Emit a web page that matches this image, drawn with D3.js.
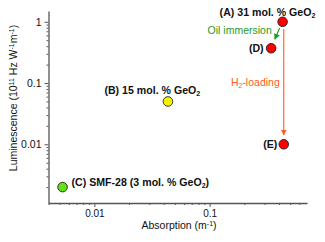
<!DOCTYPE html>
<html>
<head>
<meta charset="utf-8">
<script src="https://cdn.jsdelivr.net/npm/d3@7"></script>
<style>
  body { margin: 0; background: #fff; }
  text { font-family: "Liberation Sans", Arial, sans-serif; }
</style>
</head>
<body>
<div id="chart"></div>
<script>
// samples: A 31 mol% GeO2, B 15 mol%, C SMF-28, D after oil immersion, E after H2 loading
const samples = ["A", "B", "C", "D", "E"];
const absorption = [0.43, 0.0435, 0.0053, 0.342, 0.44];
const luminescence = [1, 0.05, 0.002, 0.37, 0.01];
const pointColors = ["#ff0000", "#f4f400", "#66e010", "#ff0000", "#ff0000"];
const pointLabels = ["(A) 31 mol. % GeO_2", "(B) 15 mol. % GeO_2", "(C) SMF-28 (3 mol. % GeO_2)", "(D)", "(E)"];

// arrows (data coordinates)
const arrowNames = ["Oil immersion", "H_2-loading"];
const arrowX0 = [0.405, 0.44];
const arrowY0 = [0.79, 0.76];
const arrowX1 = [0.368, 0.44];
const arrowY1 = [0.52, 0.0142];
const arrowColors = ["#1f9a1f", "#ff5a22"];

const xTicks = [0.01, 0.1];
const yTicks = [0.01, 0.1, 1];
const xDomain = [0.004, 0.7];
const yDomain = [0.0011, 1.5];

const W = 325, H = 242;
const plot = { left: 48.5, right: 307, top: 11, bottom: 203 };

const svg = d3.select("#chart").append("svg")
  .attr("width", W).attr("height", H);

const x = d3.scaleLog().domain(xDomain).range([plot.left, plot.right]);
const y = d3.scaleLog().domain(yDomain).range([plot.bottom, plot.top]);

// minor ticks 2..9 of every decade inside the domain
function minorTicks(dom) {
  let out = [];
  for (let e = -4; e <= 1; e++) {
    for (let m = 2; m <= 9; m++) {
      let v = m * Math.pow(10, e);
      if (v >= dom[0] && v <= dom[1]) out.push(v);
    }
  }
  return out;
}

const axisColor = "#555";

// x axis
svg.append("g")
  .attr("transform", "translate(0," + plot.bottom + ")")
  .call(d3.axisBottom(x).tickValues(minorTicks(xDomain)).tickFormat("").tickSize(2).tickSizeOuter(0))
  .call(g => g.select(".domain").remove())
  .call(g => g.selectAll("line").attr("stroke", axisColor));

const xAxis = svg.append("g")
  .attr("transform", "translate(0," + plot.bottom + ")")
  .call(d3.axisBottom(x).tickValues(xTicks).tickFormat(d3.format("")).tickSize(4).tickPadding(3).tickSizeOuter(0));
xAxis.select(".domain").attr("stroke", axisColor).attr("stroke-width", 1.3);
xAxis.selectAll("line").attr("stroke", axisColor);
xAxis.selectAll("text").attr("font-size", "10px").attr("fill", "#111")
  .style("font-family", "'Liberation Sans', Arial, sans-serif");

// y axis
svg.append("g")
  .attr("transform", "translate(" + plot.left + ",0)")
  .call(d3.axisLeft(y).tickValues(minorTicks(yDomain)).tickFormat("").tickSize(2).tickSizeOuter(0))
  .call(g => g.select(".domain").remove())
  .call(g => g.selectAll("line").attr("stroke", axisColor));

const yAxis = svg.append("g")
  .attr("transform", "translate(" + plot.left + ",0)")
  .call(d3.axisLeft(y).tickValues(yTicks).tickFormat(d3.format("")).tickSize(4).tickPadding(3).tickSizeOuter(0));
yAxis.select(".domain").attr("stroke", axisColor).attr("stroke-width", 1.3);
yAxis.selectAll("line").attr("stroke", axisColor);
yAxis.selectAll("text").attr("font-size", "10.5px").attr("fill", "#111")
  .style("font-family", "'Liberation Sans', Arial, sans-serif");

// helper: text with _x subscripts and ^x superscripts
function richText(sel, str, small) {
  const parts = str.split(/([_^]\{[^}]*\}|[_^].)/).filter(p => p !== "");
  parts.forEach(p => {
    if (p[0] === "_" || p[0] === "^") {
      const t = p.slice(1).replace(/[{}]/g, "");
      sel.append("tspan")
        .attr("font-size", small)
        .attr("baseline-shift", p[0] === "_" ? "-25%" : "45%")
        .text(t);
    } else {
      sel.append("tspan").text(p);
    }
  });
}

// axis titles
const xt = svg.append("text")
  .attr("x", 179).attr("y", 229)
  .attr("text-anchor", "middle")
  .attr("font-size", "10.5px").attr("fill", "#111");
richText(xt, "Absorption (m^{-1})", "7px");

const yt = svg.append("text")
  .attr("transform", "translate(16.5,98) rotate(-90)")
  .attr("text-anchor", "middle")
  .attr("font-size", "10.5px").attr("fill", "#111");
richText(yt, "Luminescence (10^{11} Hz W^{-1}m^{-1})", "7px");

// arrows
const defs = svg.append("defs");
arrowColors.forEach((c, i) => {
  defs.append("marker")
    .attr("id", "arr" + i)
    .attr("viewBox", "0 0 10 10")
    .attr("refX", 9).attr("refY", 5)
    .attr("markerWidth", 6).attr("markerHeight", 6)
    .attr("markerUnits", "userSpaceOnUse")
    .attr("orient", "auto")
    .append("path").attr("d", "M0,0 L10,5 L0,10 Z").attr("fill", c);
});

svg.selectAll(".arrow")
  .data(arrowNames)
  .join("line")
  .attr("class", "arrow")
  .attr("x1", (d, i) => x(arrowX0[i]))
  .attr("y1", (d, i) => y(arrowY0[i]))
  .attr("x2", (d, i) => x(arrowX1[i]))
  .attr("y2", (d, i) => y(arrowY1[i]))
  .attr("stroke", (d, i) => arrowColors[i])
  .attr("stroke-width", 1.1)
  .attr("marker-end", (d, i) => "url(#arr" + i + ")");

// arrow captions: offsets from the arrow start, in px
const arrowTextOffset = [[-72, 6, "start"], [-4, 10, "end"]];
const arrowTextY = [null, 86];
arrowNames.forEach((name, i) => {
  const t = svg.append("text")
    .attr("x", x(arrowX0[i]) + arrowTextOffset[i][0])
    .attr("y", arrowTextY[i] !== null ? arrowTextY[i] : y(arrowY0[i]) + arrowTextOffset[i][1])
    .attr("text-anchor", arrowTextOffset[i][2])
    .attr("font-size", "10.5px")
    .attr("fill", arrowColors[i]);
  richText(t, name, "7px");
});

// points
svg.selectAll(".pt")
  .data(samples)
  .join("circle")
  .attr("class", "pt")
  .attr("cx", (d, i) => x(absorption[i]))
  .attr("cy", (d, i) => y(luminescence[i]))
  .attr("r", 4.8)
  .attr("fill", (d, i) => pointColors[i])
  .attr("stroke", "#222")
  .attr("stroke-width", 0.9);

// point labels: [dx, dy, anchor] relative to the point centre
const labelOffset = {
  A: [-63, -6, "start"],
  B: [-63.5, -7.5, "start"],
  C: [9, -1, "start"],
  D: [-7.5, 4, "end"],
  E: [-6.5, 3.5, "end"]
};
samples.forEach((s, i) => {
  const o = labelOffset[s];
  const t = svg.append("text")
    .attr("x", x(absorption[i]) + o[0])
    .attr("y", y(luminescence[i]) + o[1])
    .attr("text-anchor", o[2])
    .attr("font-size", "10.6px")
    .attr("font-weight", "bold")
    .attr("fill", "#111");
  richText(t, pointLabels[i], "7px");
});
</script>
</body>
</html>
